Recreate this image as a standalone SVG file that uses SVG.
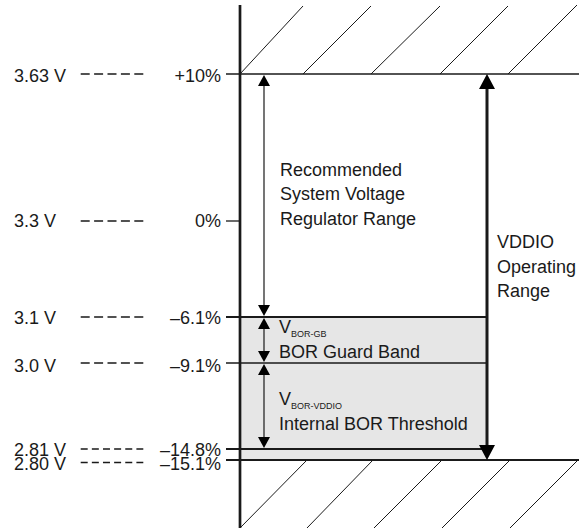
<svg xmlns="http://www.w3.org/2000/svg" width="579" height="529" viewBox="0 0 579 529">
<style>
text{font-family:"Liberation Sans",Arial,sans-serif;font-size:18px;fill:#1a1a1a}
.sub{font-size:9px}
.r{text-anchor:end}
.ln{stroke:#1a1a1a;fill:none}
.h{stroke:#1a1a1a;stroke-width:1;fill:none}
.d5{stroke:#1a1a1a;stroke-width:1.3;stroke-dasharray:9 4.4}
.d6{stroke:#1a1a1a;stroke-width:1.3;stroke-dasharray:7 4.14}
</style>
<defs>
<marker id="a1" viewBox="0 0 11 12" refX="2" refY="6" markerWidth="11" markerHeight="12" markerUnits="userSpaceOnUse" orient="auto-start-reverse"><path d="M0,0 L11,6 L0,12 z" fill="#000"/></marker>
<marker id="a2" viewBox="0 0 15 16" refX="3" refY="8" markerWidth="15" markerHeight="16" markerUnits="userSpaceOnUse" orient="auto-start-reverse"><path d="M0,0 L15,8 L0,16 z" fill="#000"/></marker>
</defs>
<g id="bor-band">
<rect x="240" y="317" width="247" height="143" fill="#e6e6e6"/>
</g>
<g id="hatch-top">
<path class="h" d="M240,74 L303,6 M303,74 L371,6 M371,74 L440,6 M440,74 L508,6 M508,74 L577,5"/>
</g>
<g id="hatch-bottom">
<path class="h" d="M307,460 L240,528 M373,460 L307,528 M442,460 L374,528 M510,460 L442,528 M578,460 L510,528"/>
</g>
<g id="levels">
<line class="ln" x1="226" y1="74" x2="579" y2="74" stroke-width="1.6"/>
<line class="ln" x1="226" y1="221" x2="240" y2="221" stroke-width="1.3"/>
<line class="ln" x1="226" y1="317" x2="487" y2="317" stroke-width="1.8"/>
<line class="ln" x1="226" y1="363" x2="487" y2="363" stroke-width="1.3"/>
<line class="ln" x1="226" y1="449" x2="487" y2="449" stroke-width="1.8"/>
<line class="ln" x1="226" y1="460" x2="579" y2="460" stroke-width="2"/>
<line class="ln" x1="240" y1="5" x2="240" y2="528" stroke-width="2.7"/>
</g>
<g id="labels-left">
<text x="14" y="81.5">3.63 V</text><line class="d5" x1="80.7" y1="74" x2="143.3" y2="74"/><text class="r" x="221" y="81.5">+10%</text>
<text x="14" y="227">3.3 V</text><line class="d5" x1="80.7" y1="221" x2="143.3" y2="221"/><text class="r" x="221" y="227">0%</text>
<text x="14" y="324">3.1 V</text><line class="d5" x1="80.7" y1="317" x2="143.3" y2="317"/><text class="r" x="221" y="324">–6.1%</text>
<text x="14" y="372">3.0 V</text><line class="d5" x1="80.7" y1="363" x2="143.3" y2="363"/><text class="r" x="221" y="372">–9.1%</text>
<text x="14" y="455.5">2.81 V</text><line class="d6" x1="80.7" y1="449" x2="143.3" y2="449"/><text class="r" x="221" y="455.5">–14.8%</text>
<text x="14" y="470">2.80 V</text><line class="d6" x1="80.7" y1="462.5" x2="143.3" y2="462.5"/><text class="r" x="221" y="470">–15.1%</text>
</g>
<g id="connectors">
<line class="ln" x1="264" y1="84" x2="264" y2="307" stroke-width="1.2" marker-start="url(#a1)" marker-end="url(#a1)"/>
<line class="ln" x1="264" y1="327" x2="264" y2="353" stroke-width="1.2" marker-start="url(#a1)" marker-end="url(#a1)"/>
<line class="ln" x1="264" y1="373" x2="264" y2="439" stroke-width="1.2" marker-start="url(#a1)" marker-end="url(#a1)"/>
<line class="ln" x1="487" y1="86" x2="487" y2="448" stroke-width="3" marker-start="url(#a2)" marker-end="url(#a2)"/>
</g>
<g id="recommended">
<text x="280" y="176">Recommended</text>
<text x="280" y="200">System Voltage</text>
<text x="280" y="225">Regulator Range</text>
</g>
<g id="vddio">
<text x="497" y="248">VDDIO</text>
<text x="497" y="273">Operating</text>
<text x="497" y="297">Range</text>
</g>
<g id="guard-band">
<text x="279" y="333">V<tspan class="sub" dy="3.5">BOR-GB</tspan></text>
<text x="279" y="358">BOR Guard Band</text>
</g>
<g id="bor-threshold">
<text x="279" y="405">V<tspan class="sub" dy="3.5">BOR-VDDIO</tspan></text>
<text x="279" y="430">Internal BOR Threshold</text>
</g>
</svg>
